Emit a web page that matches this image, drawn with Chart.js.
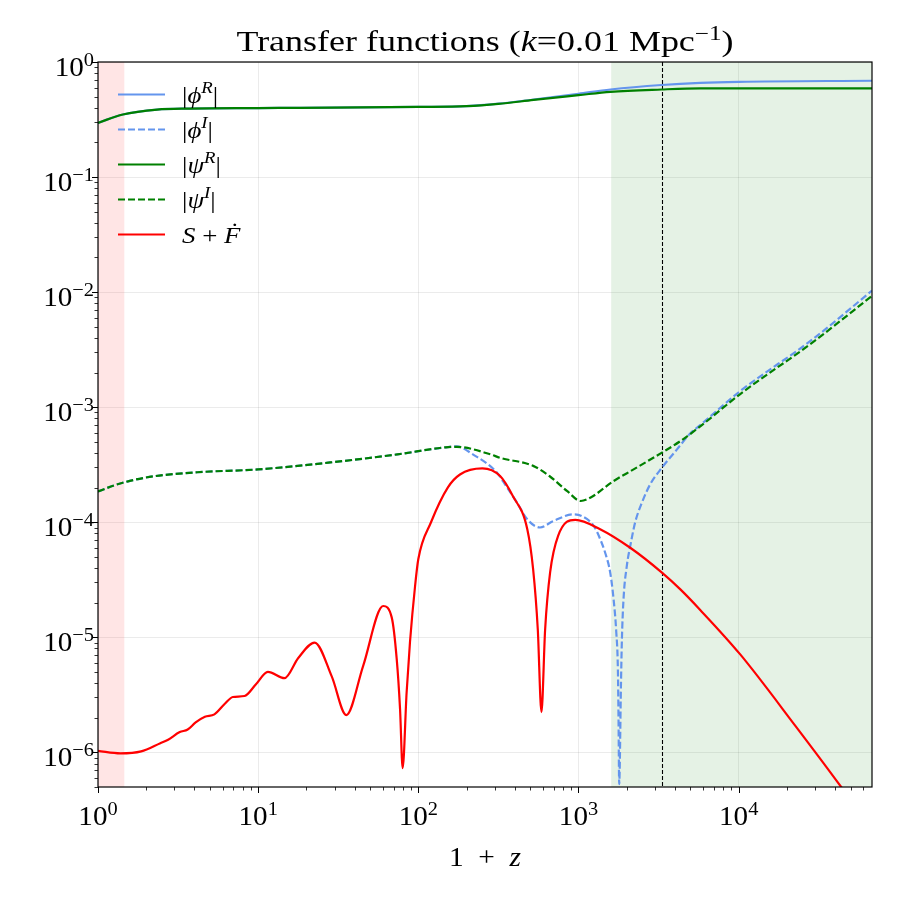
<!DOCTYPE html>
<html>
<head>
<meta charset="utf-8">
<script src="https://cdn.jsdelivr.net/npm/chart.js@4.4.1/dist/chart.umd.min.js"></script>
<style>
  html, body { margin: 0; padding: 0; background: #fff; }
  canvas { display: block; }
</style>
</head>
<body>
<canvas id="c" width="900" height="900"></canvas>
<script>
// axis ranges (1+z on x, amplitude on y)
const xRange = [1, 68000];
const yRange = [5e-7, 1];
const xDecades = [1, 10, 100, 1000, 10000];
const yDecades = [1e-6, 1e-5, 1e-4, 1e-3, 1e-2, 1e-1, 1];

// shaded epochs and the marker line
const pinkBand = [1, 1.46];
const greenBand = [1600, 68000];
const eqLine = 3300;

// |phi^R|
const phiRx = [1, 1.43, 2.34, 3.72, 10, 18.2, 100, 200, 316, 525, 1000, 1585, 3296, 5754, 10000, 68000];
const phiRy = [0.296, 0.35, 0.386, 0.394, 0.398, 0.40, 0.407, 0.413, 0.434, 0.472, 0.53, 0.577, 0.631, 0.659, 0.673, 0.687];

// |psi^R|
const psiRx = [1, 1.43, 2.34, 3.72, 10, 18.2, 100, 200, 316, 525, 1000, 1585, 3296, 5754, 10000, 68000];
const psiRy = [0.296, 0.35, 0.386, 0.394, 0.398, 0.40, 0.407, 0.413, 0.432, 0.468, 0.515, 0.551, 0.577, 0.589, 0.589, 0.589];

// |phi^I|
const phiIx = [1, 1.26, 1.58, 2.24, 4.17, 10, 28.2, 74.1, 148, 174, 219, 309, 355, 412, 479, 575, 692, 927, 1052, 1245, 1368, 1469, 1578, 1656, 1722, 1762, 1778, 1795, 1841, 1866, 1910, 2004, 2104, 2259, 2489, 2805, 3319, 4121, 5012, 5623, 10230, 28970, 68000];
const phiIy = [1.85e-4, 2.09e-4, 2.29e-4, 2.51e-4, 2.72e-4, 2.88e-4, 3.31e-4, 3.89e-4, 4.48e-4, 4.57e-4, 3.89e-4, 2.71e-4, 2.04e-4, 1.49e-4, 1.06e-4, 9.0e-5, 1.02e-4, 1.17e-4, 1.13e-4, 9.3e-5, 7.1e-5, 5.4e-5, 3.65e-5, 2.14e-5, 1.10e-5, 5.2e-6, 1.95e-6, 5.3e-7, 3.8e-6, 9.5e-6, 2.14e-5, 4.2e-5, 6.2e-5, 1.0e-4, 1.48e-4, 2.14e-4, 2.98e-4, 4.3e-4, 5.96e-4, 6.8e-4, 1.38e-3, 3.89e-3, 1.03e-2];

// |psi^I|
const psiIx = [1, 1.26, 1.58, 2.24, 4.17, 10, 28.2, 74.1, 148, 174, 282, 324, 521, 661, 851, 1033, 1191, 1656, 2208, 3319, 4325, 5623, 10230, 28970, 68000];
const psiIy = [1.85e-4, 2.09e-4, 2.29e-4, 2.51e-4, 2.72e-4, 2.88e-4, 3.31e-4, 3.89e-4, 4.48e-4, 4.52e-4, 3.89e-4, 3.63e-4, 3.09e-4, 2.51e-4, 1.86e-4, 1.53e-4, 1.64e-4, 2.28e-4, 2.88e-4, 4.03e-4, 5.07e-4, 6.64e-4, 1.30e-3, 3.66e-3, 9.27e-3];

// S + F-dot
const srcX = [1, 1.38, 1.86, 2.45, 2.72, 3.24, 3.63, 4.07, 4.65, 5.33, 6.17, 6.95, 8.22, 9.66, 11.5, 14.6, 17.8, 22.5, 28.8, 35.5, 45.2, 60.3, 68.2, 73.3, 76.9, 79.8, 84.5, 88.7, 95.5, 100, 120, 153, 182, 251, 324, 389, 479, 521, 557, 587, 619, 665, 746, 955, 1365, 2104, 3319, 4325, 5754, 10230, 22600, 43650, 68000];
const srcY = [1.03e-6, 9.8e-7, 1.02e-6, 1.20e-6, 1.28e-6, 1.50e-6, 1.58e-6, 1.82e-6, 2.04e-6, 2.14e-6, 2.63e-6, 3.03e-6, 3.09e-6, 3.89e-6, 5.01e-6, 4.41e-6, 6.61e-6, 9.0e-6, 4.57e-6, 2.11e-6, 5.62e-6, 1.87e-5, 1.49e-5, 6.46e-6, 2.37e-6, 7.3e-7, 3.31e-6, 9.1e-6, 2.82e-5, 4.79e-5, 1.0e-4, 2.01e-4, 2.60e-4, 2.94e-4, 2.52e-4, 1.69e-4, 8.7e-5, 3.89e-5, 1.17e-5, 2.24e-6, 1.17e-5, 3.66e-5, 7.6e-5, 1.05e-4, 8.7e-5, 6.0e-5, 3.65e-5, 2.61e-5, 1.73e-5, 7.1e-6, 1.70e-6, 5.0e-7, 2.1e-7];

const BLUE = '#6495ED', GREEN = '#008000', RED = '#FF0000';
const SERIF = '"Liberation Serif", "DejaVu Serif", serif';

const pts = (xs, ys) => xs.map((x, i) => ({ x, y: ys[i] }));

const datasets = [
  { label: 'S+F', data: pts(srcX, srcY), borderColor: RED, order: 0 },
  { label: 'psiI', data: pts(psiIx, psiIy), borderColor: GREEN, borderDash: [7, 3], order: 1 },
  { label: 'psiR', data: pts(psiRx, psiRy), borderColor: GREEN, order: 2 },
  { label: 'phiI', data: pts(phiIx, phiIy), borderColor: BLUE, borderDash: [7, 3], order: 3 },
  { label: 'phiR', data: pts(phiRx, phiRy), borderColor: BLUE, order: 4 },
].map(d => Object.assign({
  borderWidth: 2.2, pointRadius: 0, fill: false, cubicInterpolationMode: 'monotone'
}, d));

// legend rows: sample line style + label pieces
const legendRows = [
  { color: BLUE, dash: [], runs: [['|'], ['ϕ', 'i'], ['R', 'is'], ['|']] },
  { color: BLUE, dash: [7, 3], runs: [['|'], ['ϕ', 'i'], ['I', 'is'], ['|']] },
  { color: GREEN, dash: [], runs: [['|'], ['ψ', 'i'], ['R', 'is'], ['|']] },
  { color: GREEN, dash: [7, 3], runs: [['|'], ['ψ', 'i'], ['I', 'is'], ['|']] },
  { color: RED, dash: [], runs: [['S', 'i'], [' + '], ['Ḟ', 'i']] },
];

// draw a list of [text, style] pieces; style: i=italic, s=superscript
// sx widens the glyphs a bit, the reference font (Computer Modern) runs wider than Times
function drawRuns(ctx, runs, x, y, size, align, sx = 1) {
  const parts = runs.map(([t, st = '']) => {
    const sup = st.includes('s');
    const fs = sup ? size * 0.7 : size;
    const font = (st.includes('i') ? 'italic ' : '') + fs + 'px ' + SERIF;
    ctx.font = font;
    return { t, font, dy: sup ? -size * 0.38 : 0, w: ctx.measureText(t).width * sx };
  });
  const total = parts.reduce((s, p) => s + p.w, 0);
  let cx = align === 'center' ? x - total / 2 : align === 'right' ? x - total : x;
  ctx.textAlign = 'left';
  ctx.textBaseline = 'alphabetic';
  for (const p of parts) {
    ctx.save();
    ctx.font = p.font;
    ctx.translate(cx, y + p.dy);
    ctx.scale(sx, 1);
    ctx.fillText(p.t, 0, 0);
    ctx.restore();
    cx += p.w;
  }
  return total;
}

function expLabel(v) {
  const e = Math.round(Math.log10(v));
  return [['10'], [(e < 0 ? '−' : '') + Math.abs(e), 's']];
}

const decorations = {
  id: 'decorations',
  beforeDatasetsDraw(chart) {
    const { ctx, chartArea: a, scales: { x } } = chart;
    ctx.save();
    ctx.beginPath();
    ctx.rect(a.left, a.top, a.right - a.left, a.bottom - a.top);
    ctx.clip();
    ctx.fillStyle = 'rgba(255,0,0,0.1)';
    let l = x.getPixelForValue(pinkBand[0]), r = x.getPixelForValue(pinkBand[1]);
    ctx.fillRect(l, a.top, r - l, a.bottom - a.top);
    ctx.fillStyle = 'rgba(0,128,0,0.1)';
    l = x.getPixelForValue(greenBand[0]); r = x.getPixelForValue(greenBand[1]);
    ctx.fillRect(l, a.top, r - l, a.bottom - a.top);
    ctx.strokeStyle = '#000';
    ctx.lineWidth = 1.1;
    ctx.setLineDash([4, 2]);
    const px = Math.round(x.getPixelForValue(eqLine)) + 0.5;
    ctx.beginPath();
    ctx.moveTo(px, a.top);
    ctx.lineTo(px, a.bottom);
    ctx.stroke();
    ctx.restore();
  },
  afterDatasetsDraw(chart) {
    const { ctx, chartArea: a, scales: { x, y } } = chart;
    ctx.save();
    ctx.fillStyle = '#000';
    ctx.strokeStyle = '#000';

    // ticks
    const tick = (x1, y1, x2, y2, w) => {
      ctx.lineWidth = w;
      ctx.beginPath(); ctx.moveTo(x1, y1); ctx.lineTo(x2, y2); ctx.stroke();
    };
    for (const d of xDecades) {
      for (let m = 1; m < 10; m++) {
        const v = d * m;
        if (v < xRange[0] || v > xRange[1]) continue;
        const px = Math.round(x.getPixelForValue(v)) + 0.5;
        tick(px, a.bottom, px, a.bottom + (m === 1 ? 6 : 3.5), m === 1 ? 1 : 0.8);
      }
    }
    for (const d of [1e-7, ...yDecades]) {
      for (let m = 1; m < 10; m++) {
        const v = d * m;
        if (v < yRange[0] || v > yRange[1] * 1.0001) continue;
        const py = Math.round(y.getPixelForValue(v)) + 0.5;
        tick(a.left, py, a.left - (m === 1 ? 6 : 3.5), py, m === 1 ? 1 : 0.8);
      }
    }

    // frame
    ctx.lineWidth = 1.2;
    ctx.strokeRect(a.left, a.top, a.right - a.left, a.bottom - a.top);

    // tick labels
    for (const d of xDecades) {
      drawRuns(ctx, expLabel(d), x.getPixelForValue(d), a.bottom + 38, 27, 'center', 1.08);
    }
    for (const d of yDecades) {
      drawRuns(ctx, expLabel(d), a.left - 4, y.getPixelForValue(d) + 14, 27, 'right', 1.08);
    }

    // axis label and title
    drawRuns(ctx, [['1'], ['\u2002+\u2002'], ['z', 'i']], (a.left + a.right) / 2, 866, 28, 'center', 1.05);
    drawRuns(ctx, [['Transfer functions ('], ['k', 'i'], ['=0.01 Mpc'], ['−1', 's'], [')']],
      (a.left + a.right) / 2, 51, 29, 'center', 1.24);

    // legend
    legendRows.forEach((row, i) => {
      const ly = 94.5 + i * 35;
      ctx.strokeStyle = row.color;
      ctx.lineWidth = 2.2;
      ctx.setLineDash(row.dash);
      ctx.beginPath(); ctx.moveTo(118, ly); ctx.lineTo(165, ly); ctx.stroke();
      ctx.setLineDash([]);
      ctx.fillStyle = '#000';
      drawRuns(ctx, row.runs, 182, ly + 8, 24, 'left', 1.12);
    });
    ctx.restore();
  }
};

new Chart(document.getElementById('c'), {
  type: 'line',
  data: { datasets },
  plugins: [decorations],
  options: {
    responsive: false,
    animation: false,
    layout: { padding: { left: 98, right: 28, top: 62, bottom: 113 } },
    plugins: { legend: { display: false }, tooltip: { enabled: false } },
    scales: {
      x: {
        type: 'logarithmic', min: xRange[0], max: xRange[1],
        afterBuildTicks: s => { s.ticks = xDecades.map(v => ({ value: v })); },
        ticks: { display: false },
        grid: { color: 'rgba(0,0,0,0.08)', drawTicks: false },
        border: { display: false }
      },
      y: {
        type: 'logarithmic', min: yRange[0], max: yRange[1],
        afterBuildTicks: s => { s.ticks = yDecades.map(v => ({ value: v })); },
        ticks: { display: false },
        grid: { color: 'rgba(0,0,0,0.08)', drawTicks: false },
        border: { display: false }
      }
    }
  }
});
</script>
</body>
</html>
